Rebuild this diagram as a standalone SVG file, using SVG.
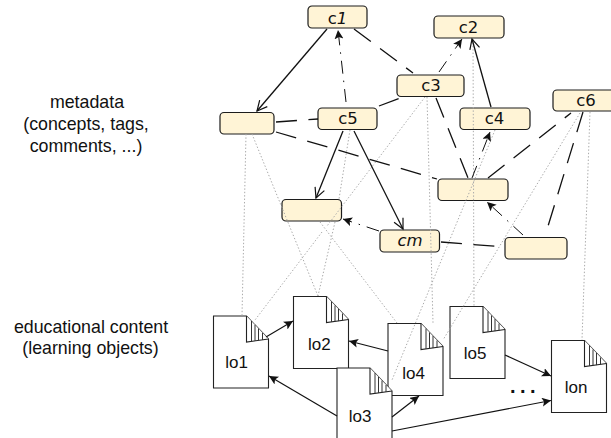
<svg xmlns="http://www.w3.org/2000/svg" width="611" height="438" viewBox="0 0 611 438">
<style>
.n{fill:#fff4d6;stroke:#1c1c1c;stroke-width:1.2}
.t{font-family:"DejaVu Sans",sans-serif;font-size:16.5px;fill:#111;text-anchor:middle}
.i{font-style:italic}
.l{font-family:"Liberation Sans",Arial,sans-serif;font-size:17.8px;fill:#111;text-anchor:middle}
.d{font-family:"Liberation Sans",Arial,sans-serif;font-size:17px;fill:#111;text-anchor:middle}
.doc{fill:#fff;stroke:#222;stroke-width:1.1}
.h{fill:none;stroke:#333;stroke-width:1}
.dot{fill:none;stroke:#aaa;stroke-width:1;stroke-dasharray:1.4 2}
.s{fill:none;stroke:#111;stroke-width:1.3}
.lg{stroke-dasharray:21 11.5}
.dd{stroke-width:1;stroke-dasharray:13 7 1.5 7}
.a{fill:none;stroke:#111;stroke-width:1.2}
</style>
<defs>
<marker id="open" markerUnits="userSpaceOnUse" markerWidth="14" markerHeight="14" refX="11" refY="6" orient="auto"><path d="M1 1L11 6L1 11" fill="none" stroke="#111" stroke-width="1.2"/></marker>
<marker id="fill" markerUnits="userSpaceOnUse" markerWidth="12" markerHeight="12" refX="9" refY="4.5" orient="auto"><path d="M0 0L9 4.5L0 9L2 4.5Z" fill="#111"/></marker>
<g id="page"><path class="doc" d="M0 0H33L55 23V72H0Z"/><path class="doc" d="M33 0V26L55 23"/><path class="h" d="M38 5V25.4M41.5 9V25M45 12.500V24.600M49 17V24"/></g>
</defs>
<g id="nodes">
<g id="c1"><rect class="n" x="308" y="6" width="59" height="22" rx="4"/><text class="t" x="337.500" y="23.500">c<tspan class="i">1</tspan></text></g>
<g id="c2"><rect class="n" x="434" y="16" width="70" height="22" rx="4"/><text class="t" x="468.500" y="32.800">c2</text></g>
<g id="c3"><rect class="n" x="397" y="75" width="67" height="21.500" rx="4"/><text class="t" x="431" y="91">c3</text></g>
<g id="c4"><rect class="n" x="460" y="108" width="70" height="21.500" rx="4"/><text class="t" x="494.500" y="124.300">c4</text></g>
<g id="c5"><rect class="n" x="318" y="108" width="59" height="21.500" rx="4"/><text class="t" x="348" y="124.300">c5</text></g>
<g id="c6"><rect class="n" x="553" y="90" width="62" height="21" rx="4"/><text class="t" x="586" y="106">c6</text></g>
<g id="cm"><rect class="n" x="380" y="230" width="59.500" height="22" rx="4"/><text class="t i" x="410" y="246">cm</text></g>
<g id="b1"><rect class="n" x="220" y="112.500" width="54" height="21.500" rx="4"/></g>
<g id="b2"><rect class="n" x="282" y="199.500" width="59.500" height="21.500" rx="4"/></g>
<g id="b3"><rect class="n" x="438" y="179" width="70" height="21.500" rx="4"/></g>
<g id="b4"><rect class="n" x="505" y="237.500" width="62" height="21.500" rx="4"/></g>
<g id="lo1"><use href="#page" x="213.500" y="316"/><text class="d" x="236.700" y="368">lo1</text></g>
<g id="lo2"><use href="#page" x="293.500" y="296.500"/><text class="d" x="319.300" y="350">lo2</text></g>
<g id="lo4"><use href="#page" x="388" y="323.500"/><text class="d" x="413.500" y="379">lo4</text></g>
<g id="lo3"><use href="#page" x="337" y="368"/><text class="d" x="360" y="421.700">lo3</text></g>
<g id="lo5"><use href="#page" x="450" y="306.500"/><text class="d" x="475" y="359">lo5</text></g>
<g id="lon"><use href="#page" x="551.500" y="340.500"/><text class="d" x="576" y="393">lon</text></g>
</g>
<g id="connectors">
<path class="dot" d="M246 134L242 316"/>
<path class="dot" d="M252 134L318 296"/>
<path class="dot" d="M425 97L327 226M322 232L255 320"/>
<path class="dot" d="M350 130L339 199M335 222L318 296"/>
<path class="dot" d="M320 222L397 323"/>
<path class="dot" d="M427 97L433 323"/>
<path class="dot" d="M473 39L474 306"/>
<path class="dot" d="M495 130L392 380"/>
<path class="dot" d="M580 113L443 340"/>
<path class="dot" d="M590 112L582 340"/>
<path class="s" d="M327 29L257 111" marker-end="url(#open)"/>
<path class="s lg" d="M354 29L413 73"/>
<path class="s dd" d="M346 102L338 30" marker-end="url(#fill)"/>
<path class="s lg" d="M276 122L318 119"/>
<path class="s lg" d="M379 106L400 98"/>
<path class="s lg" d="M276 132L437 179"/>
<path class="s" d="M343 131L316 198" marker-end="url(#open)"/>
<path class="s" d="M354 131L403 229" marker-end="url(#open)"/>
<path class="s dd" d="M379 231L343 219" marker-end="url(#fill)"/>
<path class="s dd" d="M439 72L462 39" marker-end="url(#fill)"/>
<path class="s" d="M491 107L472 39" marker-end="url(#open)"/>
<path class="s lg" d="M436 98L468 178"/>
<path class="s dd" d="M472 178L490 132" marker-end="url(#fill)"/>
<path class="s lg" d="M488 178L571 113"/>
<path class="s lg" d="M583 112L545 236"/>
<path class="s dd" d="M523 235L487 202" marker-end="url(#fill)"/>
<path class="s lg" d="M441 242L505 247"/>
<path class="a" d="M266 337L293 321" marker-end="url(#fill)"/>
<path class="a" d="M337 416L269 376" marker-end="url(#fill)"/>
<path class="a" d="M388 351L349 341" marker-end="url(#fill)"/>
<path class="a" d="M392 417L419 396" marker-end="url(#fill)"/>
<path class="a" d="M392 431L551 400.500" marker-end="url(#fill)"/>
<path class="a" d="M505 355L551 376" marker-end="url(#fill)"/>
</g>
<text class="l" x="87" y="108">metadata</text>
<text class="l" x="86" y="130">(concepts, tags,</text>
<text class="l" x="86" y="151.500">comments, ...)</text>
<text class="l" x="91" y="332.700">educational content</text>
<text class="l" x="90.500" y="354">(learning objects)</text>
<text x="510" y="393" style="font-family:'Liberation Sans',sans-serif;font-weight:bold;font-size:20px;letter-spacing:4.4px;fill:#111">...</text>
</svg>
